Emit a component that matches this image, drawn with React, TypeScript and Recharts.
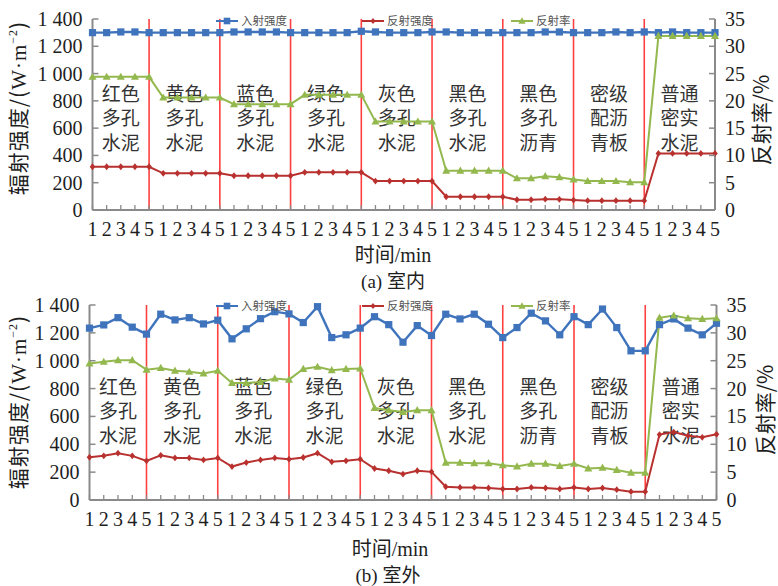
import React from "react";
import { ComposedChart, Line, XAxis, YAxis, ReferenceLine, ReferenceArea } from "recharts";

// ---------- data ----------
const minuteLabels = ["1", "2", "3", "4", "5"];
const materialNames = [
  ["红色", "多孔", "水泥"],
  ["黄色", "多孔", "水泥"],
  ["蓝色", "多孔", "水泥"],
  ["绿色", "多孔", "水泥"],
  ["灰色", "多孔", "水泥"],
  ["黑色", "多孔", "水泥"],
  ["黑色", "多孔", "沥青"],
  ["密级", "配沥", "青板"],
  ["普通", "密实", "水泥"],
];
const seriesNames = ["入射强度", "反射强度", "反射率"];
const leftTicks = [0, 200, 400, 600, 800, 1000, 1200, 1400];
const rightTicks = [0, 5, 10, 15, 20, 25, 30, 35];

// (a) 室内
const indoorIncident = [
  1300, 1300, 1305, 1305, 1300, 1300, 1300, 1300, 1300, 1300,
  1305, 1305, 1305, 1305, 1300, 1300, 1300, 1300, 1300, 1310,
  1305, 1300, 1300, 1300, 1305, 1305, 1300, 1300, 1300, 1300,
  1300, 1300, 1305, 1305, 1300, 1300, 1300, 1305, 1300, 1305,
  1300, 1305, 1300, 1300, 1300,
];
const indoorReflected = [
  317, 317, 317, 317, 317, 269, 269, 269, 269, 269,
  251, 251, 251, 251, 251, 276, 276, 276, 276, 276,
  212, 212, 212, 212, 212, 97, 97, 97, 97, 97,
  75, 75, 79, 78, 73, 68, 68, 68, 68, 68,
  415, 415, 415, 415, 415,
];
const indoorRate = [
  24.4, 24.4, 24.4, 24.4, 24.4, 20.6, 20.6, 20.6, 20.6, 20.6,
  19.4, 19.4, 19.4, 19.4, 19.4, 21.1, 21.1, 21.1, 21.1, 21.1,
  16.2, 16.2, 16.2, 16.2, 16.2, 7.2, 7.2, 7.2, 7.2, 7.2,
  5.8, 5.8, 6.2, 6.0, 5.6, 5.3, 5.3, 5.3, 5.1, 5.1,
  31.9, 31.9, 31.9, 31.9, 31.9,
];

// (b) 室外
const outdoorIncident = [
  1234, 1257, 1309, 1241, 1191, 1334, 1293, 1309, 1264, 1291,
  1157, 1229, 1302, 1352, 1336, 1274, 1388, 1166, 1186, 1234,
  1316, 1259, 1133, 1252, 1181, 1334, 1300, 1334, 1262, 1166,
  1238, 1341, 1286, 1186, 1316, 1259, 1371, 1238, 1071, 1071,
  1259, 1300, 1234, 1186, 1269,
];
const outdoorReflected = [
  307, 317, 336, 317, 281, 321, 302, 302, 288, 302,
  240, 269, 288, 302, 293, 305, 336, 274, 281, 293,
  226, 210, 186, 210, 202, 95, 90, 90, 86, 79,
  79, 90, 86, 79, 90, 79, 86, 74, 60, 60,
  470, 488, 462, 450, 472,
];
const outdoorRate = [
  24.5, 24.8, 25.1, 25.1, 23.4, 23.7, 23.2, 23.0, 22.7, 23.2,
  21.0, 21.0, 21.2, 21.8, 21.6, 23.5, 23.9, 23.3, 23.5, 23.6,
  16.5, 16.1, 15.8, 16.1, 16.1, 6.7, 6.7, 6.6, 6.6, 6.25,
  6.0, 6.5, 6.5, 6.1, 6.5, 5.65, 5.8, 5.4, 4.9, 4.9,
  32.7, 33.1, 32.6, 32.5, 32.6,
];

// ---------- styles ----------
const BLUE = "#3f74bd";
const RED = "#b8312f";
const GREEN = "#93b84e";
const VLINE = "#ff4040";
const AXIS = "#8a8a8a";
const TXT = "#1e1e1e";
const SERIF = "'Liberation Serif', 'DejaVu Serif', serif";
const CJK = "'Noto Sans CJK SC', sans-serif";

const groupSize = minuteLabels.length;
const categories = materialNames.flatMap(() => minuteLabels);

function buildRows(inc: number[], ref: number[], rate: number[]) {
  return inc.map((v, i) => ({ idx: i, incident: v, reflected: ref[i], rate: rate[i] }));
}

const fmtLeft = (v: number) => (v >= 1000 ? `${Math.floor(v / 1000)} ${String(v % 1000).padStart(3, "0")}` : String(v));

const SquareDot = (p: any) => {
  if (p.cx == null || p.cy == null) return null;
  return <rect x={p.cx - 3.6} y={p.cy - 3.6} width={7.2} height={7.2} fill={BLUE} />;
};
const RoundDot = (p: any) => {
  if (p.cx == null || p.cy == null) return null;
  return <path d={`M${p.cx},${p.cy - 3.4}L${p.cx + 2.8},${p.cy}L${p.cx},${p.cy + 3.4}L${p.cx - 2.8},${p.cy}Z`} fill={RED} />;
};
const TriDot = (p: any) => {
  if (p.cx == null || p.cy == null) return null;
  return <path d={`M${p.cx},${p.cy - 4.2}L${p.cx + 4},${p.cy + 3}L${p.cx - 4},${p.cy + 3}Z`} fill={GREEN} />;
};

const LeftTick = (p: any) => (
  <g>
    <line x1={p.x + 10} x2={p.x + 16} y1={p.y} y2={p.y} stroke={AXIS} strokeWidth={1.5} />
    <text x={p.x} y={p.y} dy="0.35em" textAnchor="end" fontFamily={SERIF} fontSize={20} fill={TXT}>
      {fmtLeft(p.payload.value)}
    </text>
  </g>
);
const RightTick = (p: any) => (
  <g>
    <line x1={p.x - 10} x2={p.x - 16} y1={p.y} y2={p.y} stroke={AXIS} strokeWidth={1.5} />
    <text x={p.x} y={p.y} dy="0.35em" textAnchor="start" fontFamily={SERIF} fontSize={20} fill={TXT}>
      {p.payload.value}
    </text>
  </g>
);
const BottomTick = (p: any) => (
  <g>
    <line x1={p.x} x2={p.x} y1={p.y - 12} y2={p.y - 17} stroke={AXIS} strokeWidth={1.3} />
    <text x={p.x} y={p.y} dy="0.71em" textAnchor="middle" fontFamily={SERIF} fontSize={20} fill={TXT}>
      {categories[p.payload.value]}
    </text>
  </g>
);

const GroupLabel = (p: any) => {
  const vb = p.viewBox || { x: 0, y: 0, width: 0, height: 0 };
  const cx = vb.x + vb.width / 2;
  return (
    <text textAnchor="middle" fontFamily={CJK} fontSize={19} fill="#333">
      {p.lines.map((t: string, i: number) => (
        <tspan key={i} x={cx} y={vb.y + p.firstRow + i * p.rowGap} dy="0.35em">
          {t}
        </tspan>
      ))}
    </text>
  );
};

type PanelProps = {
  rows: any[];
  height: number;
  margin: { top: number; right: number; bottom: number; left: number };
  leftW: number;
  rightW: number;
  firstRow: number;
  rowGap: number;
};

function Panel({ rows, height, margin, leftW, rightW, firstRow, rowGap }: PanelProps) {
  return (
    <ComposedChart width={778} height={height} data={rows} margin={margin}>
      <XAxis
        dataKey="idx"
        type="category"
        scale="point"
        padding={{ left: 0, right: 0 }}
        interval={0}
        height={30}
        tickSize={0}
        tickMargin={12}
        tickLine={false}
        axisLine={{ stroke: AXIS, strokeWidth: 2 }}
        tick={<BottomTick />}
      />
      <YAxis
        yAxisId="left"
        orientation="left"
        width={leftW}
        domain={[0, 1400]}
        ticks={leftTicks}
        interval={0}
        tickSize={0}
        tickMargin={10}
        tickLine={false}
        axisLine={{ stroke: AXIS, strokeWidth: 2 }}
        tick={<LeftTick />}
      />
      <YAxis
        yAxisId="right"
        orientation="right"
        width={rightW}
        domain={[0, 35]}
        ticks={rightTicks}
        interval={0}
        tickSize={0}
        tickMargin={10}
        tickLine={false}
        axisLine={{ stroke: AXIS, strokeWidth: 2 }}
        tick={<RightTick />}
      />
      {materialNames.map((lines, g) => (
        <ReferenceArea
          key={`a${g}`}
          yAxisId="left"
          x1={g === 0 ? 0 : g * groupSize - 1}
          x2={g * groupSize + groupSize - 1}
          fill="none"
          fillOpacity={0}
          stroke="none"
          ifOverflow="visible"
          label={<GroupLabel lines={lines} firstRow={firstRow} rowGap={rowGap} />}
        />
      ))}
      {materialNames.slice(0, -1).map((_, g) => (
        <ReferenceLine
          key={`v${g}`}
          yAxisId="left"
          x={g * groupSize + groupSize - 1}
          stroke={VLINE}
          strokeWidth={1.6}
        />
      ))}
      <Line yAxisId="left" dataKey="incident" stroke={BLUE} strokeWidth={2.4} dot={<SquareDot />} activeDot={false} isAnimationActive={false} />
      <Line yAxisId="left" dataKey="reflected" stroke={RED} strokeWidth={2} dot={<RoundDot />} activeDot={false} isAnimationActive={false} />
      <Line yAxisId="right" dataKey="rate" stroke={GREEN} strokeWidth={2} dot={<TriDot />} activeDot={false} isAnimationActive={false} />
    </ComposedChart>
  );
}

function LegendRow({ y }: { y: number }) {
  const items = [
    { x: 216, color: BLUE, kind: "sq" },
    { x: 362, color: RED, kind: "dm" },
    { x: 511, color: GREEN, kind: "tr" },
  ];
  return (
    <g>
      {items.map((it, i) => {
        const mx = it.x + 11;
        return (
          <g key={i}>
            <line x1={it.x} x2={it.x + 22} y1={y} y2={y} stroke={it.color} strokeWidth={2} />
            {it.kind === "sq" && <rect x={mx - 3.3} y={y - 3.3} width={6.6} height={6.6} fill={it.color} />}
            {it.kind === "dm" && <path d={`M${mx},${y - 3}L${mx + 2.5},${y}L${mx},${y + 3}L${mx - 2.5},${y}Z`} fill={it.color} />}
            {it.kind === "tr" && <path d={`M${mx},${y - 3.8}L${mx + 3.6},${y + 2.8}L${mx - 3.6},${y + 2.8}Z`} fill={it.color} />}
            <text x={it.x + 25} y={y} dy="0.36em" fontFamily={CJK} fontSize={11.5} fill="#555">
              {seriesNames[i]}
            </text>
          </g>
        );
      })}
    </g>
  );
}

function YTitle({ x, y }: { x: number; y: number }) {
  return (
    <text transform={`translate(${x},${y}) rotate(-90)`} textAnchor="middle" dy="0.35em" fontFamily={CJK} fontSize={21} letterSpacing={1} fill={TXT}>
      辐射强度/(
      <tspan fontFamily={SERIF}>W·m</tspan>
      <tspan fontFamily={SERIF} fontSize={12} dy="-9">−2</tspan>
      <tspan dy="9">)</tspan>
    </text>
  );
}

function RTitle({ x, y }: { x: number; y: number }) {
  return (
    <text transform={`translate(${x},${y}) rotate(-90)`} textAnchor="middle" dy="0.35em" fontFamily={CJK} fontSize={21} fill={TXT}>
      反射率/%
    </text>
  );
}

export default function App() {
  const indoorRows = buildRows(indoorIncident, indoorReflected, indoorRate);
  const outdoorRows = buildRows(outdoorIncident, outdoorReflected, outdoorRate);
  return (
    <div style={{ position: "absolute", left: 0, top: 0, width: 778, height: 586, background: "#fff" }}>
      <div style={{ position: "absolute", left: 0, top: 0 }}>
        <Panel
          rows={indoorRows}
          height={290}
          margin={{ top: 19, right: 0, bottom: 50, left: 0 }}
          leftW={92.5}
          rightW={63}
          firstRow={75}
          rowGap={24.5}
        />
      </div>
      <div style={{ position: "absolute", left: 0, top: 290 }}>
        <Panel
          rows={outdoorRows}
          height={296}
          margin={{ top: 15, right: 0, bottom: 56, left: 0 }}
          leftW={89.5}
          rightW={61.5}
          firstRow={82}
          rowGap={24.5}
        />
      </div>
      <svg width={778} height={586} style={{ position: "absolute", left: 0, top: 0, pointerEvents: "none" }}>
        <LegendRow y={21} />
        <LegendRow y={306} />
        <YTitle x={19} y={108} />
        <YTitle x={19} y={402} />
        <RTitle x={762} y={120} />
        <RTitle x={766} y={410} />
        <text x={393} y={255} dy="0.35em" textAnchor="middle" fontSize={20} fill={TXT}>
          <tspan fontFamily={CJK}>时间</tspan>
          <tspan fontFamily={SERIF}>/min</tspan>
        </text>
        <text x={393} y={281} dy="0.35em" textAnchor="middle" fontSize={19} fill={TXT}>
          <tspan fontFamily={SERIF}>(a) </tspan>
          <tspan fontFamily={CJK}>室内</tspan>
        </text>
        <text x={390} y={549} dy="0.35em" textAnchor="middle" fontSize={20} fill={TXT}>
          <tspan fontFamily={CJK}>时间</tspan>
          <tspan fontFamily={SERIF}>/min</tspan>
        </text>
        <text x={388} y={575} dy="0.35em" textAnchor="middle" fontSize={19} fill={TXT}>
          <tspan fontFamily={SERIF}>(b) </tspan>
          <tspan fontFamily={CJK}>室外</tspan>
        </text>
      </svg>
    </div>
  );
}
